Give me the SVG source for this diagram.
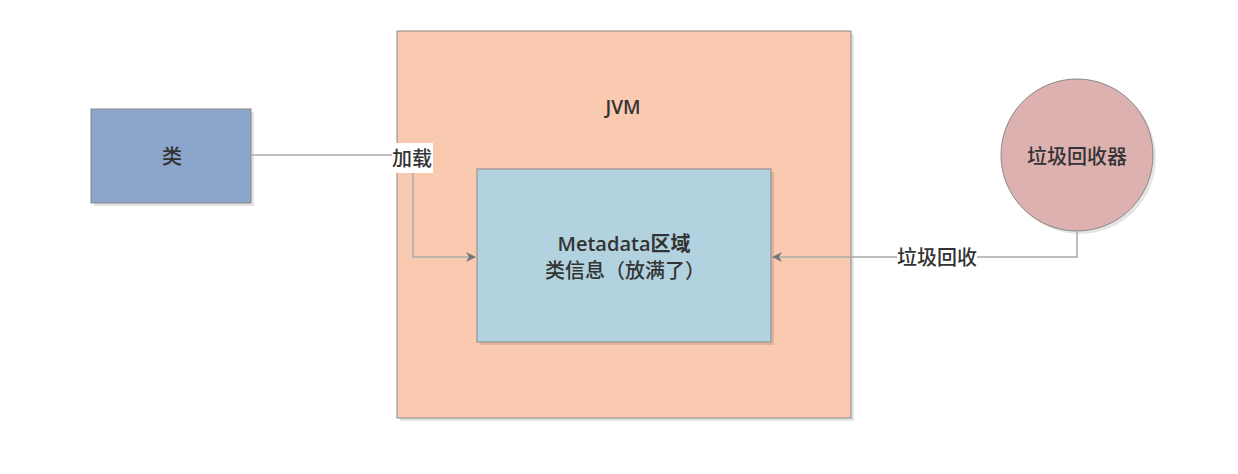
<svg xmlns="http://www.w3.org/2000/svg" width="1238" height="474" viewBox="0 0 1238 474">
<style>
text{font-family:"Open Sans","Noto Sans CJK SC",sans-serif;font-size:20px;font-weight:500;fill:#333;text-anchor:middle;dominant-baseline:central}
.b{font-weight:600}
.sh{fill:#000;opacity:0.1}
.node{stroke:#888;stroke-width:1}
.conn{fill:none;stroke:#aaa;stroke-width:1.5}
</style>
<defs>
<marker id="arr" viewBox="0 0 10 10" refX="9" refY="5" markerWidth="10" markerHeight="10" markerUnits="userSpaceOnUse" orient="auto">
<path d="M0,0 L10,5 L0,10 L3,5 Z" fill="#777"/>
</marker>
</defs>
<g id="node-class">
<rect class="sh" x="94" y="112" width="160" height="94"/>
<rect class="node" x="91" y="109" width="160" height="94" fill="#8ba5cb"/>
<text x="172" y="156">类</text>
</g>
<g id="node-jvm">
<rect class="sh" x="400" y="34" width="454" height="387"/>
<rect class="node" x="397" y="31" width="454" height="387" fill="#f9c9b0"/>
<text class="b" x="623" y="107" style="font-size:19px">JVM</text>
</g>
<g id="node-metadata">
<rect class="sh" x="480" y="172" width="294" height="173"/>
<rect class="node" x="477" y="169" width="294" height="173" fill="#b1d2de"/>
<text class="b" x="624" y="243">Metadata区域</text>
<text x="625" y="270">类信息（放满了）</text>
</g>
<g id="node-gc">
<circle class="sh" cx="1080" cy="158" r="76"/>
<circle class="node" cx="1077" cy="155" r="76" fill="#deb1b1"/>
<text x="1077" y="156">垃圾回收器</text>
</g>
<g id="connectors">
<path class="conn" d="M251,155 H413 V257 H475" marker-end="url(#arr)"/>
<rect x="392" y="143" width="41" height="30" fill="#fff"/>
<text x="412" y="158">加载</text>
<path class="conn" d="M1077,231 V257 H773" marker-end="url(#arr)"/>
<rect x="897" y="243" width="80" height="28" fill="#fff"/>
<text x="937" y="257">垃圾回收</text>
</g>
</svg>
